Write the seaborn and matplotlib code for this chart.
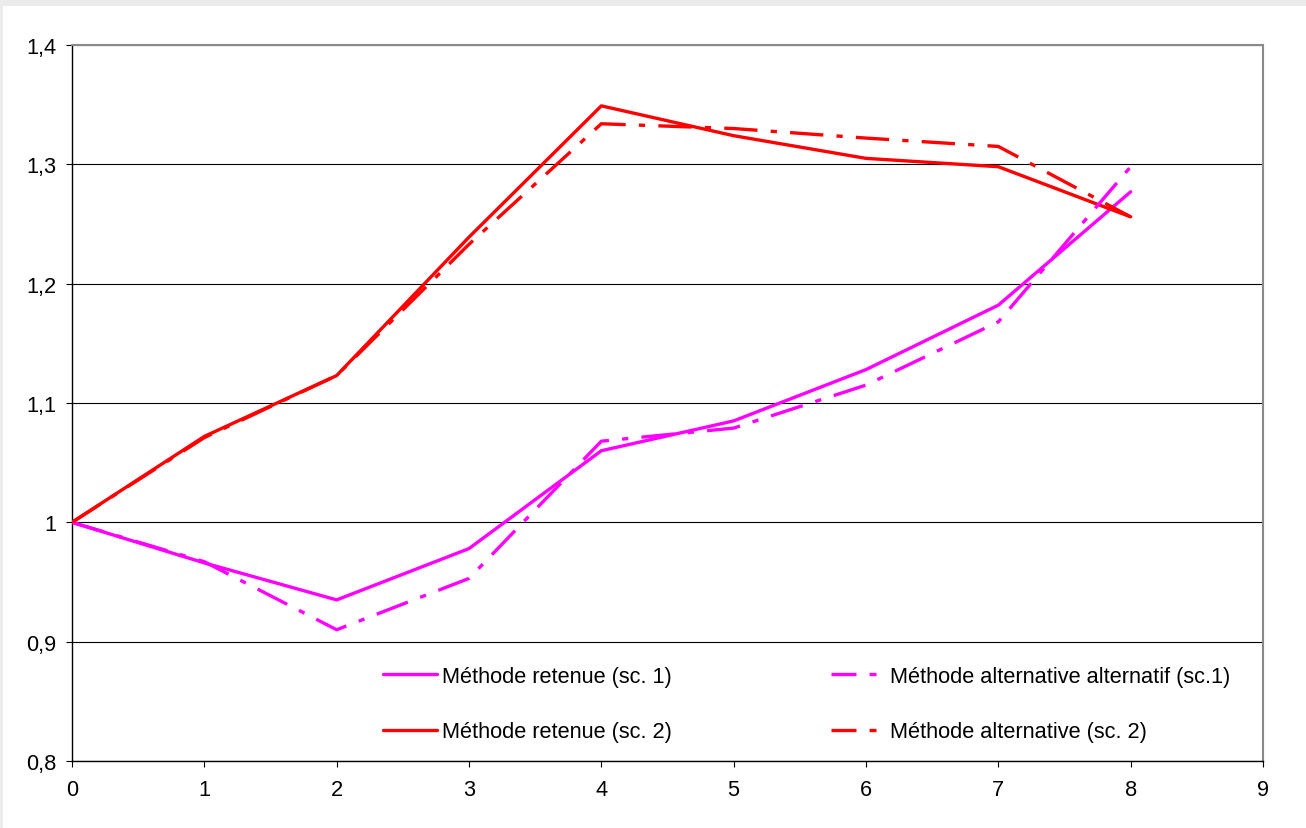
import matplotlib
matplotlib.use("Agg")
import matplotlib.pyplot as plt
from matplotlib.patches import Rectangle
import seaborn as sns
import pandas as pd

# Series values (index 0..8)
periods = [0, 1, 2, 3, 4, 5, 6, 7, 8]
retenue_sc1 = [1.000, 0.966, 0.935, 0.978, 1.060, 1.085, 1.128, 1.182, 1.277]
alternative_sc1 = [1.000, 0.967, 0.910, 0.953, 1.068, 1.079, 1.115, 1.168, 1.298]
retenue_sc2 = [1.000, 1.072, 1.123, 1.239, 1.349, 1.324, 1.305, 1.298, 1.256]
alternative_sc2 = [1.000, 1.071, 1.123, 1.233, 1.334, 1.330, 1.322, 1.315, 1.256]

labels = {
    "r1": "Méthode retenue (sc. 1)",
    "r2": "Méthode retenue (sc. 2)",
    "a1": "Méthode alternative alternatif (sc.1)",
    "a2": "Méthode alternative (sc. 2)",
}
y_ticks = [0.8, 0.9, 1.0, 1.1, 1.2, 1.3, 1.4]
y_ticklabels = ["0,8", "0,9", "1", "1,1", "1,2", "1,3", "1,4"]
x_ticks = [0, 1, 2, 3, 4, 5, 6, 7, 8, 9]

sns.set_theme(style="white")
plt.rcParams["font.family"] = ["Liberation Sans", "DejaVu Sans"]
plt.rcParams["lines.scale_dashes"] = False

FS = 15.7
MAGENTA = "#ff00ff"
RED = "#ff0000"
LW = 2.4
DASHDOT = (0, (24, 9.5, 4.5, 9.5))
LEGEND_DASHDOT = (0, (18, 9.4, 5, 9.4))

fig = plt.figure(figsize=(13.06, 8.29), dpi=100)
fig.patch.set_facecolor("#ebebeb")
fig.patches.append(Rectangle((3 / 1306, 0), 1, 1 - 7 / 829, transform=fig.transFigure,
                             facecolor="white", edgecolor="none", zorder=-10))

ax = fig.add_axes([72 / 1306, 1 - 762 / 829, 1191 / 1306, 716 / 829])
ax.set_facecolor("white")

df = pd.DataFrame({
    "x": periods,
    "r1": retenue_sc1,
    "a1": alternative_sc1,
    "r2": retenue_sc2,
    "a2": alternative_sc2,
})

sns.lineplot(data=df, x="x", y="r1", ax=ax, color=MAGENTA, lw=LW,
             label=labels["r1"], zorder=3)
sns.lineplot(data=df, x="x", y="r2", ax=ax, color=RED, lw=LW,
             label=labels["r2"], zorder=3)
sns.lineplot(data=df, x="x", y="a1", ax=ax, color=MAGENTA, lw=LW,
             linestyle=DASHDOT, label=labels["a1"], zorder=3)
sns.lineplot(data=df, x="x", y="a2", ax=ax, color=RED, lw=LW,
             linestyle=DASHDOT, label=labels["a2"], zorder=3)

ax.set_xlim(0, 9)
ax.set_ylim(0.8, 1.4)
ax.set_xticks(x_ticks)
ax.set_xticklabels([str(v) for v in x_ticks])
ax.set_yticks(y_ticks)
ax.set_yticklabels(y_ticklabels)
ax.set_xlabel("")
ax.set_ylabel("")

# horizontal gridlines only
ax.yaxis.grid(True, color="black", lw=0.8)
ax.xaxis.grid(False)
ax.set_axisbelow(True)

for side in ["left", "bottom"]:
    ax.spines[side].set_color("black")
    ax.spines[side].set_linewidth(1.0)
for side in ["top", "right"]:
    ax.spines[side].set_color("#8a8a8a")
    ax.spines[side].set_linewidth(1.5)

ax.tick_params(axis="both", which="major", direction="out", length=4, width=0.8,
               color="black", labelsize=FS, labelcolor="black")
ax.tick_params(axis="y", left=True, pad=7)
ax.tick_params(axis="x", bottom=True, pad=9)

handles, labs = ax.get_legend_handles_labels()
order = [labs.index(labels[k]) for k in ["r1", "r2", "a1", "a2"]]
leg = ax.legend([handles[i] for i in order], [labs[i] for i in order],
                ncol=2, frameon=False, fontsize=FS,
                loc="center left", bbox_to_anchor=((383 - 72) / 1191, (762 - 705) / 716),
                borderpad=0, borderaxespad=0, handlelength=2.48, handletextpad=0.23,
                columnspacing=7.3, labelspacing=1.59)
for t in leg.get_texts():
    t.set_color("black")
for line in leg.get_lines()[2:]:
    line.set_linestyle(LEGEND_DASHDOT)

fig.savefig("out.png", dpi=100, facecolor=fig.get_facecolor())
